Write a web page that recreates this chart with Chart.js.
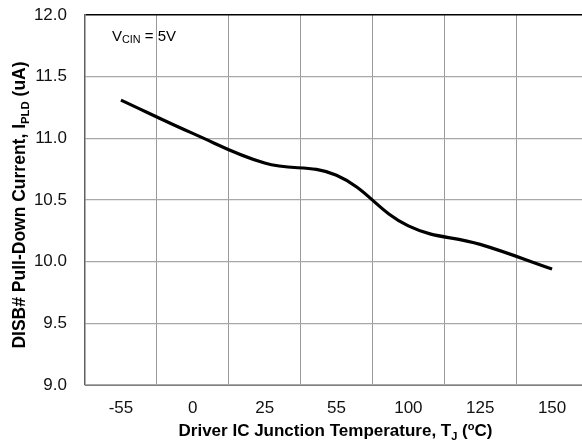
<!DOCTYPE html>
<html lang="en">
<head>
    <meta charset="UTF-8">
    <script src="https://cdn.jsdelivr.net/npm/chart.js@4.4.0/dist/chart.umd.min.js"></script>
    <style>
        html, body {
            margin: 0;
            padding: 0;
            background: #fff;
            overflow: hidden;
        }
        canvas {
            display: block;
        }
    </style>
    <title>DISB# Pull-Down Current vs Temperature</title>
</head>
<body>
    <canvas id="chartCanvas" width="588" height="445"></canvas>

    <script>
        // temperature categories (evenly spaced on the axis)
        const temperatures = ['-55', '0', '25', '55', '100', '125', '150'];
        // pull-down current, uA
        const pullDownCurrent = [11.31, 11.04, 10.80, 10.70, 10.29, 10.14, 9.94];
        const yTicks = [9.0, 9.5, 10.0, 10.5, 11.0, 11.5, 12.0];

        const FONT = '"Liberation Sans", Arial, sans-serif';

        // draws a run of text pieces, some of them sub/superscript
        function drawPieces(ctx, pieces, x, y, size, bold, align, subScale) {
            const weight = bold ? 'bold ' : '';
            const k = subScale || 0.65;
            let total = 0;
            for (const p of pieces) {
                const s = p.sub || p.sup ? size * k : size;
                ctx.font = weight + s + 'px ' + FONT;
                p.w = ctx.measureText(p.text).width;
                total += p.w;
            }
            let cx = align === 'center' ? x - total / 2 : x;
            for (const p of pieces) {
                const s = p.sub || p.sup ? size * k : size;
                ctx.font = weight + s + 'px ' + FONT;
                let dy = 0;
                if (p.sub) dy = p.dy !== undefined ? p.dy : size * 0.22;
                if (p.sup) dy = -size * 0.38;
                ctx.fillText(p.text, cx, y + dy);
                cx += p.w;
            }
        }

        const labelPlugin = {
            id: 'labels',
            afterDraw(chart) {
                const ctx = chart.ctx;
                const area = chart.chartArea;
                ctx.save();
                ctx.fillStyle = '#000';
                ctx.textBaseline = 'alphabetic';
                ctx.textAlign = 'left';

                // x axis title
                drawPieces(ctx, [
                    { text: 'Driver IC Junction Temperature, T' },
                    { text: 'J', sub: true },
                    { text: ' (' },
                    { text: 'o', sup: true },
                    { text: 'C)' }
                ], (area.left + area.right) / 2 - 1, 436, 17, true, 'center');

                // y axis title
                ctx.save();
                ctx.translate(25, 205);
                ctx.rotate(-Math.PI / 2);
                drawPieces(ctx, [
                    { text: 'DISB# Pull-Down Current, I' },
                    { text: 'PLD', sub: true },
                    { text: ' (uA)' }
                ], 0, 0, 17.5, true, 'center');
                ctx.restore();

                // condition note
                drawPieces(ctx, [
                    { text: 'V' },
                    { text: 'CIN', sub: true, dy: 1.5 },
                    { text: ' = 5V' }
                ], 112, 41, 15, false, 'left', 0.72);

                ctx.restore();
            }
        };

        const ctx = document.getElementById('chartCanvas').getContext('2d');
        const chart = new Chart(ctx, {
            type: 'line',
            data: {
                labels: temperatures,
                datasets: [{
                    data: pullDownCurrent,
                    borderColor: '#000',
                    borderWidth: 3.2,
                    pointRadius: 0,
                    tension: 0.4,
                    fill: false
                }]
            },
            options: {
                responsive: false,
                animation: false,
                layout: {
                    padding: { top: 15, right: 0, bottom: 0, left: 0 }
                },
                plugins: {
                    legend: { display: false },
                    tooltip: { enabled: false }
                },
                scales: {
                    x: {
                        type: 'category',
                        offset: true,
                        grid: {
                            offset: true,
                            color: '#9a9a9a',
                            lineWidth: 1,
                            drawTicks: false
                        },
                        border: { color: '#808080', width: 1 },
                        ticks: {
                            color: '#111',
                            padding: 13,
                            font: { family: FONT, size: 17 },
                            maxRotation: 0
                        },
                        afterFit(scale) {
                            scale.height = 60;
                        }
                    },
                    y: {
                        min: 9,
                        max: 12,
                        afterBuildTicks(scale) {
                            scale.ticks = yTicks.map(v => ({ value: v }));
                        },
                        grid: {
                            color: ctx => ctx.tick && ctx.tick.value === 12 ? '#000' : '#a8a8a8',
                            lineWidth: ctx => ctx.tick && ctx.tick.value === 12 ? 1.5 : 1.2,
                            drawTicks: false
                        },
                        border: { color: '#606060', width: 1.5 },
                        ticks: {
                            color: '#111',
                            padding: 18,
                            font: { family: FONT, size: 17 },
                            callback: v => Number(v).toFixed(1)
                        },
                        afterFit(scale) {
                            scale.width = 85;
                            scale.paddingTop = 0;
                            scale.paddingBottom = 0;
                        }
                    }
                }
            },
            plugins: [labelPlugin]
        });
    </script>
</body>
</html>
